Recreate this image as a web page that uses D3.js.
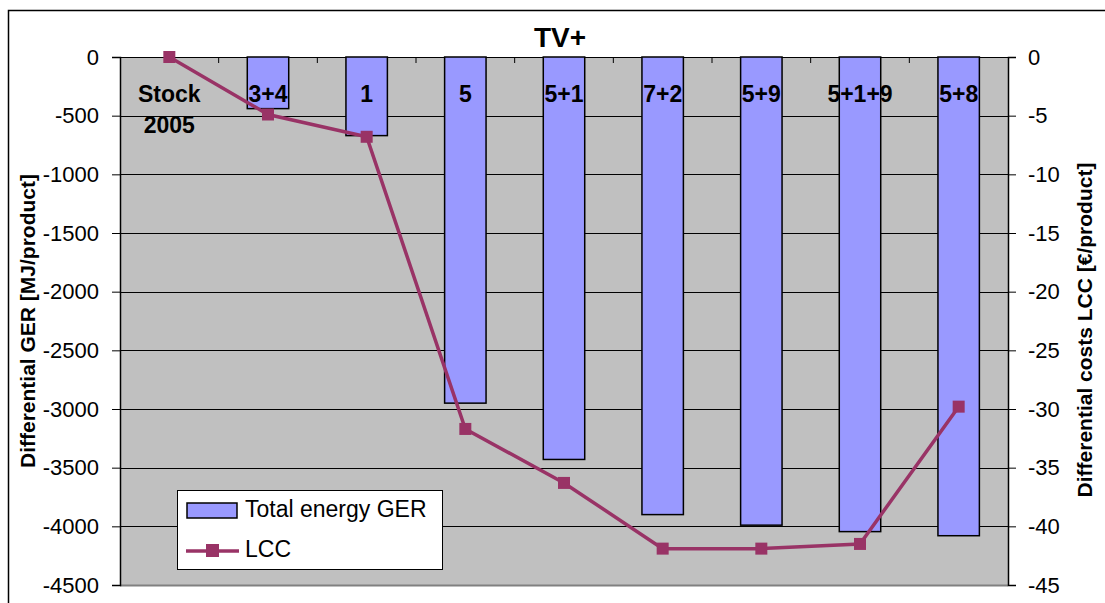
<!DOCTYPE html>
<html>
<head>
<meta charset="utf-8">
<script src="https://cdn.jsdelivr.net/npm/d3@7"></script>
<style>
body { margin: 0; background: #fff; }
svg { font-family: "Liberation Sans", Arial, sans-serif; }
</style>
</head>
<body>
<svg width="1105" height="603"></svg>
<script>
// data
var categories = ["Stock\n2005", "3+4", "1", "5", "5+1", "7+2", "5+9", "5+1+9", "5+8"];
var gerValues = [0, -440, -670, -2950, -3430, -3900, -3990, -4045, -4080];
var lccValues = [0, -4.9, -6.8, -31.7, -36.3, -41.9, -41.9, -41.5, -29.8];
var gerTicks = [0, -500, -1000, -1500, -2000, -2500, -3000, -3500, -4000, -4500];
var lccTicks = [0, -5, -10, -15, -20, -25, -30, -35, -40, -45];

var svg = d3.select("svg"),
    width = +svg.attr("width"),
    height = +svg.attr("height");

// plot area edges (window.top is reserved, so no "top")
var plotLeft = 120, plotRight = 1008, plotTop = 57, plotBottom = 585;

// plain hyphen minus like the original
function fmt(d) { return String(d); }

// outer chart frame
svg.append("rect")
    .attr("x", 8.5).attr("y", 10.5)
    .attr("width", 1110).attr("height", 620)
    .attr("fill", "#fff").attr("stroke", "#000").attr("stroke-width", 1.5);

var x = d3.scaleBand()
    .domain(categories)
    .range([plotLeft, plotRight])
    .paddingInner(0.58)
    .paddingOuter(0.29);

var yL = d3.scaleLinear().domain([-4500, 0]).range([plotBottom, plotTop]);
var yR = d3.scaleLinear().domain([-45, 0]).range([plotBottom, plotTop]);

// plot area
svg.append("rect")
    .attr("x", plotLeft).attr("y", plotTop)
    .attr("width", plotRight - plotLeft).attr("height", plotBottom - plotTop)
    .attr("fill", "#c0c0c0");

svg.append("line")
    .attr("x1", plotLeft).attr("x2", plotRight)
    .attr("y1", plotBottom + 0.5).attr("y2", plotBottom + 0.5)
    .attr("stroke", "#808080").attr("stroke-width", 2);

// gridlines
svg.append("g").selectAll("line")
    .data(gerTicks.slice(0, -1))
    .enter().append("line")
    .attr("x1", plotLeft).attr("x2", plotRight)
    .attr("y1", function(d) { return Math.round(yL(d)) + 0.5; })
    .attr("y2", function(d) { return Math.round(yL(d)) + 0.5; })
    .attr("stroke", "#000").attr("stroke-width", 1);

// left axis
var axisL = svg.append("g")
    .attr("transform", "translate(" + plotLeft + ",0)")
    .call(d3.axisLeft(yL).tickValues(gerTicks).tickSize(8).tickPadding(13).tickFormat(fmt));
axisL.select(".domain").attr("stroke-width", 1.5);
axisL.selectAll("text").attr("font-size", 22).attr("fill", "#000")
    .attr("font-family", "Liberation Sans, Arial, sans-serif");

// right axis
var axisR = svg.append("g")
    .attr("transform", "translate(" + plotRight + ",0)")
    .call(d3.axisRight(yR).tickValues(lccTicks).tickSize(8).tickPadding(12).tickFormat(fmt));
axisR.select(".domain").attr("stroke-width", 1.5);
axisR.selectAll("text").attr("font-size", 22).attr("fill", "#000")
    .attr("font-family", "Liberation Sans, Arial, sans-serif");

// category tick marks at the top (axis at zero)
var step = x.step();
svg.append("g").selectAll("line")
    .data(d3.range(1, categories.length))
    .enter().append("line")
    .attr("x1", function(i) { return plotLeft + i * step; })
    .attr("x2", function(i) { return plotLeft + i * step; })
    .attr("y1", plotTop).attr("y2", plotTop + 6)
    .attr("stroke", "#000");

// bars
svg.append("g").selectAll("rect")
    .data(categories)
    .enter().append("rect")
    .attr("x", function(d) { return x(d); })
    .attr("y", yL(0))
    .attr("width", x.bandwidth())
    .attr("height", function(d, i) { return yL(gerValues[i]) - yL(0); })
    .attr("fill", "#9999ff")
    .attr("stroke", "#000").attr("stroke-width", 1.5);

// category labels
var labels = svg.append("g").selectAll("text")
    .data(categories)
    .enter().append("text")
    .attr("x", function(d) { return x(d) + x.bandwidth() / 2; })
    .attr("y", 102)
    .attr("text-anchor", "middle")
    .attr("font-size", 23).attr("font-weight", "bold");
labels.each(function(d) {
    var parts = d.split("\n");
    var t = d3.select(this);
    parts.forEach(function(p, j) {
        t.append("tspan")
            .attr("x", t.attr("x"))
            .attr("dy", j == 0 ? 0 : 31)
            .text(p);
    });
});

// LCC line
var line = d3.line()
    .x(function(d, i) { return x(categories[i]) + x.bandwidth() / 2; })
    .y(function(d) { return yR(d); });

svg.append("path")
    .datum(lccValues)
    .attr("d", line)
    .attr("fill", "none")
    .attr("stroke", "#993366").attr("stroke-width", 3.5);

svg.append("g").selectAll("rect")
    .data(lccValues)
    .enter().append("rect")
    .attr("x", function(d, i) { return x(categories[i]) + x.bandwidth() / 2 - 6; })
    .attr("y", function(d) { return yR(d) - 6; })
    .attr("width", 12).attr("height", 12)
    .attr("fill", "#993366");

// title
svg.append("text")
    .attr("x", 560).attr("y", 47)
    .attr("text-anchor", "middle")
    .attr("font-size", 28).attr("font-weight", "bold")
    .text("TV+");

// axis titles
svg.append("text")
    .attr("transform", "translate(35," + ((plotTop + plotBottom) / 2) + ") rotate(-90)")
    .attr("text-anchor", "middle")
    .attr("font-size", 21).attr("font-weight", "bold")
    .text("Differential GER [MJ/product]");

svg.append("text")
    .attr("transform", "translate(1092,330) rotate(-90)")
    .attr("text-anchor", "middle")
    .attr("font-size", 21).attr("font-weight", "bold")
    .text("Differential costs LCC [€/product]");

// legend
var legend = svg.append("g").attr("transform", "translate(177,490)");
legend.append("rect")
    .attr("x", 0.5).attr("y", 0.5).attr("width", 265).attr("height", 79)
    .attr("fill", "#fff").attr("stroke", "#000");
legend.append("rect")
    .attr("x", 10).attr("y", 13).attr("width", 50).attr("height", 15)
    .attr("fill", "#9999ff").attr("stroke", "#000").attr("stroke-width", 1.5);
legend.append("text")
    .attr("x", 68).attr("y", 27)
    .attr("font-size", 23)
    .text("Total energy GER");
legend.append("line")
    .attr("x1", 9).attr("x2", 62).attr("y1", 61).attr("y2", 61)
    .attr("stroke", "#993366").attr("stroke-width", 3.5);
legend.append("rect")
    .attr("x", 29).attr("y", 54).attr("width", 13).attr("height", 13)
    .attr("fill", "#993366");
legend.append("text")
    .attr("x", 68).attr("y", 67)
    .attr("font-size", 23)
    .text("LCC");
</script>
</body>
</html>
